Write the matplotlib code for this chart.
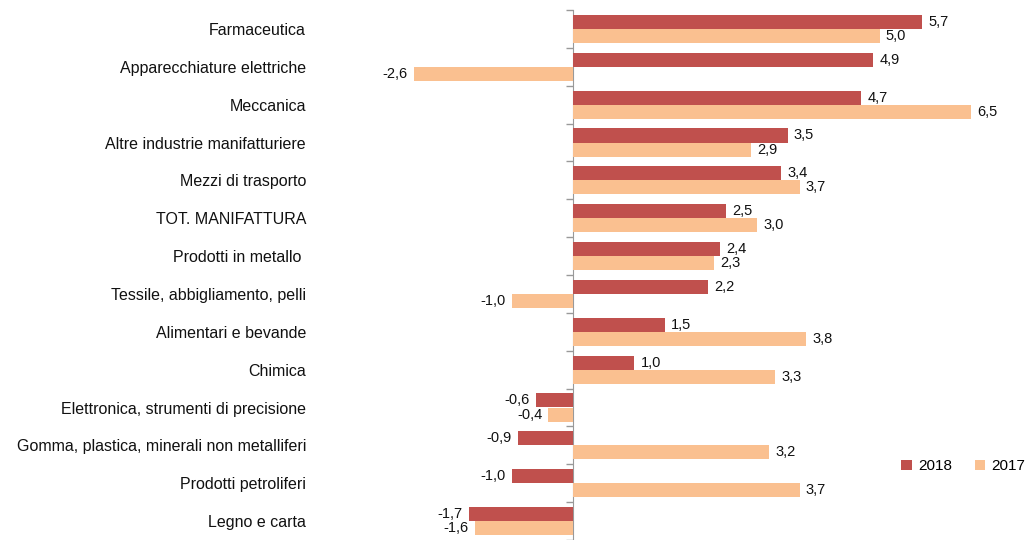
import numpy as np
import matplotlib.pyplot as plt

categories = ["Farmaceutica", "Apparecchiature elettriche", "Meccanica",
              "Altre industrie manifatturiere", "Mezzi di trasporto",
              "TOT. MANIFATTURA", "Prodotti in metallo ",
              "Tessile, abbigliamento, pelli", "Alimentari e bevande", "Chimica",
              "Elettronica, strumenti di precisione",
              "Gomma, plastica, minerali non metalliferi",
              "Prodotti petroliferi", "Legno e carta"]
v2018 = [5.7, 4.9, 4.7, 3.5, 3.4, 2.5, 2.4, 2.2, 1.5, 1.0, -0.6, -0.9, -1.0, -1.7]
v2017 = [5.0, -2.6, 6.5, 2.9, 3.7, 3.0, 2.3, -1.0, 3.8, 3.3, -0.4, 3.2, 3.7, -1.6]

c18 = "#C0504D"
c17 = "#FAC090"
plt.rcParams['font.family'] = ['Liberation Sans', 'DejaVu Sans']

fig = plt.figure(figsize=(10.32, 5.4), dpi=100)
ax = fig.add_axes([320 / 1032, 0.0, 1 - 320 / 1032, 1 - 10 / 540])

ppu = 61.3
xmin = -(573 - 320) / ppu
xmax = (1032 - 573) / ppu
y = np.arange(len(categories))
h = 0.37
ax.barh(y - h / 2, v2018, height=h, color=c18, label="2018")
ax.barh(y + h / 2, v2017, height=h, color=c17, label="2017")

def fmt(v):
    return f"{v:.1f}".replace(".", ",")

for yy, vals in ((y - h / 2, v2018), (y + h / 2, v2017)):
    for yi, v in zip(yy, vals):
        off = 0.1 if v >= 0 else -0.1
        ax.text(v + off, yi, fmt(v), va="center",
                ha="left" if v >= 0 else "right", fontsize=10.5, color="#111111")

ax.set_xlim(xmin, xmax)
ax.set_ylim(len(categories) - 0.5, -0.5)
ax.set_yticks(y)
ax.set_yticklabels(categories, fontsize=11.5, color="#111111")
ax.tick_params(axis="y", length=0, pad=10)
ax.set_xticks([])
for s in ax.spines.values():
    s.set_visible(False)

# category axis at zero with boundary tick marks
zero_frac = (0 - xmin) / (xmax - xmin)
sec = ax.secondary_yaxis(zero_frac)
sec.set_yticks(np.arange(-0.5, len(categories), 1.0))
sec.set_yticklabels([])
sec.tick_params(axis="y", length=5, color="#999999", width=1)
sec.spines['left'].set_color("#999999")

ax.legend(loc="lower right", bbox_to_anchor=(1.01, 0.1), frameon=False,
          ncol=2, fontsize=11, handlelength=0.7, handleheight=0.7,
          columnspacing=1.5, handletextpad=0.4)

fig.savefig("out.png", dpi=100)
